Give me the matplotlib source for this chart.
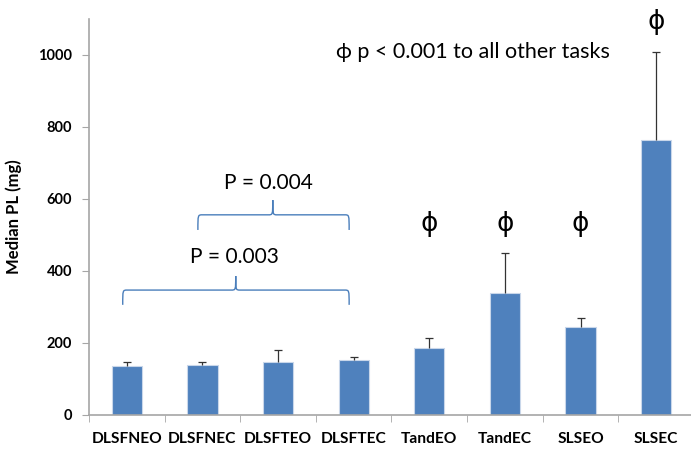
import matplotlib
matplotlib.use("Agg")
import matplotlib.pyplot as plt
from matplotlib.path import Path
from matplotlib.patches import PathPatch

categories = ["DLSFNEO", "DLSFNEC", "DLSFTEO", "DLSFTEC", "TandEO", "TandEC", "SLSEO", "SLSEC"]
medians = [137, 139, 148, 153, 186, 339, 245, 764]
upper_err = [9, 7, 32, 8, 29, 111, 24, 244]
significant = [False, False, False, False, True, True, True, True]

bar_color = "#4F81BD"
brace_color = "#4A7EBB"
axis_color = "#A6A6A6"
err_color = "#333333"
font = "Lato"

fig = plt.figure(figsize=(6.91, 4.53), dpi=100)
ax = fig.add_axes([0.1288, 0.0839, 0.8755, 0.8742])

x = list(range(len(categories)))
ax.bar(x, medians, width=0.4, color=bar_color, edgecolor="#C9D7EA", linewidth=0.8, zorder=2)

# upper-only error bars with a cap at the top end
tops = [m + e for m, e in zip(medians, upper_err)]
ax.vlines(x, medians, tops, colors=err_color, linewidth=0.9, zorder=3)
ax.plot(x, tops, linestyle="none", marker="_", markersize=6, markeredgewidth=0.9,
        color=err_color, zorder=3)

ax.set_xlim(-0.5, len(categories) - 0.5)
ax.set_ylim(0, 1100)
ax.set_yticks(range(0, 1001, 200))
ax.set_xticks(x)
ax.set_xticklabels(categories, fontfamily=font, fontweight="bold", fontsize=11.2)
ax.set_xticks([i - 0.5 for i in range(len(categories) + 1)], minor=True)
ax.tick_params(axis="x", which="major", length=0, pad=12)
ax.tick_params(axis="x", which="minor", length=5, color=axis_color, direction="out")
ax.tick_params(axis="y", length=5, color=axis_color, direction="out", pad=7)
for lab in ax.get_yticklabels():
    lab.set_fontfamily(font)
    lab.set_fontweight("bold")
    lab.set_fontsize(10.5)
ax.set_ylabel("Median PL (mg)", fontfamily=font, fontweight="bold", fontsize=12, labelpad=12)

for side in ("top", "right"):
    ax.spines[side].set_visible(False)
for side in ("left", "bottom"):
    ax.spines[side].set_color(axis_color)
    ax.spines[side].set_linewidth(1.2)


def curly_brace(ax, x0, x1, xm, y, drop, rise):
    """Horizontal curly brace spanning x0..x1 with its point at xm."""
    w = 0.06
    verts = [
        (x0, y - drop),
        (x0, y), (x0, y), (x0 + w, y),
        (xm - w, y),
        (xm, y), (xm, y), (xm, y + rise),
        (xm, y), (xm, y), (xm + w, y),
        (x1 - w, y),
        (x1, y), (x1, y), (x1, y - drop),
    ]
    codes = [Path.MOVETO,
             Path.CURVE4, Path.CURVE4, Path.CURVE4,
             Path.LINETO,
             Path.CURVE4, Path.CURVE4, Path.CURVE4,
             Path.CURVE4, Path.CURVE4, Path.CURVE4,
             Path.LINETO,
             Path.CURVE4, Path.CURVE4, Path.CURVE4]
    ax.add_patch(PathPatch(Path(verts, codes), facecolor="none",
                           edgecolor=brace_color, linewidth=1.0, zorder=4))


curly_brace(ax, 0.94, 2.94, 1.93, 556, 42, 41)
ax.text(1.87, 644, "P = 0.004", ha="center", va="center", fontfamily=font, fontsize=15)
curly_brace(ax, -0.054, 2.94, 1.44, 347, 41, 39)
ax.text(1.42, 440, "P = 0.003", ha="center", va="center", fontfamily=font, fontsize=15)

# significance markers sit above tall error bars, otherwise at a common height
for i, sig in enumerate(significant):
    if sig:
        ypos = tops[i] + 84 if tops[i] > 500 else 530
        ax.text(i, ypos, "\u03d5", ha="center", va="center",
                fontfamily="DejaVu Sans", fontsize=19)

ax.text(2.77, 1007, "\u03d5 p < 0.001 to all other tasks", ha="left", va="center",
        fontfamily=[font, "DejaVu Sans"], fontsize=15.5)

fig.savefig("out.png", dpi=100)
